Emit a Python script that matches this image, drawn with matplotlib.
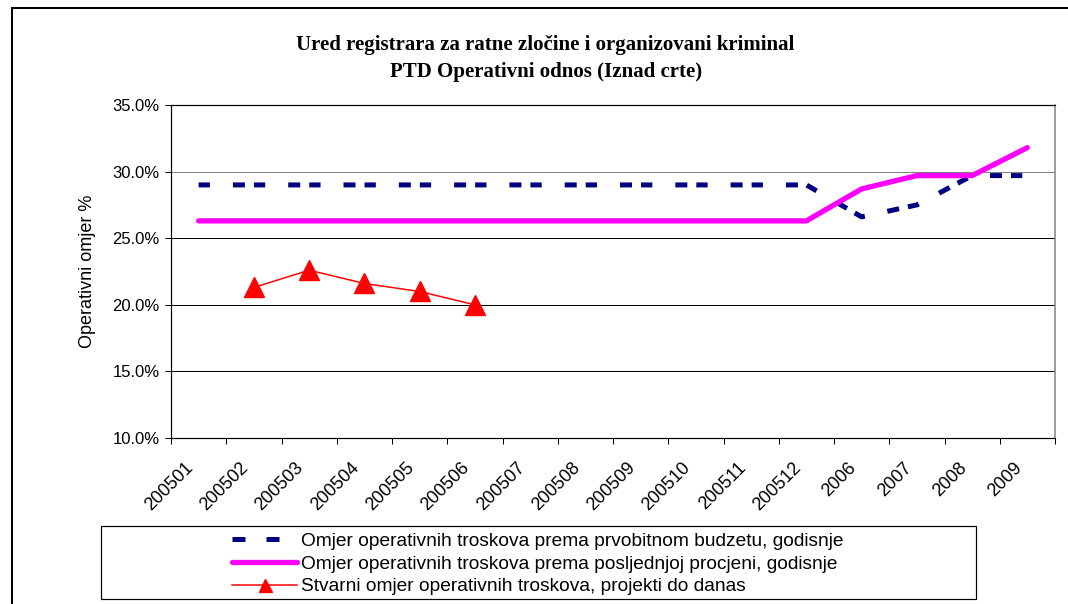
import matplotlib
matplotlib.use("Agg")
import matplotlib.pyplot as plt
import numpy as np
from matplotlib.lines import Line2D
from matplotlib.patches import Rectangle
from matplotlib.transforms import ScaledTranslation

plt.rcParams['font.family'] = ['Liberation Sans', 'DejaVu Sans']
plt.rcParams['lines.scale_dashes'] = False

# ---- data ----
categories = ["200501", "200502", "200503", "200504", "200505", "200506",
              "200507", "200508", "200509", "200510", "200511", "200512",
              "2006", "2007", "2008", "2009"]
budget_ratio = [29.0, 29.0, 29.0, 29.0, 29.0, 29.0, 29.0, 29.0, 29.0, 29.0,
                29.0, 29.0, 26.6, 27.5, 29.7, 29.7]
estimate_ratio = [26.3, 26.3, 26.3, 26.3, 26.3, 26.3, 26.3, 26.3, 26.3, 26.3,
                  26.3, 26.3, 28.7, 29.7, 29.7, 31.8]
actual_ratio = [np.nan, 21.3, 22.6, 21.6, 21.0, 20.0, np.nan, np.nan, np.nan,
                np.nan, np.nan, np.nan, np.nan, np.nan, np.nan, np.nan]
y_ticks = [10, 15, 20, 25, 30, 35]
series_names = ["Omjer operativnih troskova prema prvobitnom budzetu, godisnje",
                "Omjer operativnih troskova prema posljednjoj procjeni, godisnje",
                "Stvarni omjer operativnih troskova, projekti do danas"]
title_lines = ["Ured registrara za ratne zločine i organizovani kriminal",
               "PTD Operativni odnos (Iznad crte)"]
y_label = "Operativni omjer %"

W, H = 1068, 604
fig = plt.figure(figsize=(W / 100, H / 100), dpi=100)
PX = 0.72  # points per pixel

def fx(px):
    return px / W

def fy(py):
    return 1 - py / H

ax = fig.add_axes([fx(171), fy(438), fx(1055) - fx(171), fy(105) - fy(438)])

x = np.arange(len(categories))
NAVY = "#000080"
MAG = "#FF00FF"
RED = "#FF0000"

# gridlines
for v in y_ticks[1:-1]:
    ax.axhline(v, color="#808080" if v == 30 else "black", lw=1.0 * PX, zorder=1)

ax.plot(x, budget_ratio, color=NAVY, lw=5 * PX, zorder=3,
        linestyle=(0.0, (11.3 * PX, 23 * PX, 12 * PX, 9 * PX)),
        dash_capstyle="butt")
ax.plot(x, estimate_ratio, color=MAG, lw=5.3 * PX, solid_capstyle="round",
        solid_joinstyle="round", zorder=4)
ax.plot(x, actual_ratio, color=RED, lw=1.5 * PX, marker="^", ms=20 * PX,
        mec=RED, mfc=RED, zorder=5)

ax.set_xlim(-0.5, len(categories) - 0.5)
ax.set_ylim(10, 35)
ax.set_yticks(y_ticks)
ax.set_yticklabels([f"{v:.1f}%" for v in y_ticks], fontsize=12)
ax.tick_params(axis="y", direction="out", length=6 * PX, width=1 * PX, pad=4)

# category boundary ticks, labels drawn as rotated texts
ax.set_xticks(np.arange(-0.5, len(categories), 1.0))
ax.set_xticklabels([])
ax.tick_params(axis="x", direction="out", length=6 * PX, width=1 * PX)
offset = ScaledTranslation(-8 / 100, -27 / 100, fig.dpi_scale_trans)
for i, lab in enumerate(categories):
    ax.text(i, 0, lab, transform=ax.get_xaxis_transform() + offset,
            fontsize=13, rotation=45, ha="right", va="center",
            rotation_mode="anchor", clip_on=False)

for s in ["left", "bottom", "top"]:
    ax.spines[s].set_color("black")
    ax.spines[s].set_linewidth(1.2 * PX)
ax.spines["right"].set_color("#808080")
ax.spines["right"].set_linewidth(1.5 * PX)

fig.text(fx(87), (fy(105) + fy(438)) / 2, y_label, rotation=90,
         ha="center", va="center", fontsize=13)

fig.text(fx(545), fy(45), title_lines[0], ha="center", va="center",
         fontsize=15, fontweight="bold", family=["Liberation Serif"])
fig.text(fx(546), fy(72), title_lines[1], ha="center", va="center",
         fontsize=15, fontweight="bold", family=["Liberation Serif"])

# legend
h1 = Line2D([], [], color=NAVY, lw=5 * PX, linestyle=(0, (13 * PX, 21 * PX)))
h2 = Line2D([], [], color=MAG, lw=5.3 * PX, solid_capstyle="round")
h3 = Line2D([], [], color=RED, lw=1.5 * PX, marker="^", ms=13 * PX,
            mec=RED, mfc=RED)
leg = fig.legend([h1, h2, h3], series_names, loc="center",
                 bbox_to_anchor=(fx(538), fy(564)), frameon=False,
                 fontsize=13.8, handlelength=3.4, handletextpad=0.2,
                 labelspacing=0.28, borderpad=0)
fig.add_artist(Rectangle((fx(101), fy(599)), fx(976) - fx(101), fy(526) - fy(599),
                         transform=fig.transFigure, fill=False, ec="black",
                         lw=1.2 * PX))
# outer border
fig.add_artist(Rectangle((fx(12), -0.05), 1.2, fy(8) + 0.05,
                         transform=fig.transFigure, fill=False, ec="black",
                         lw=2 * PX))

fig.savefig("out.png", dpi=100)
